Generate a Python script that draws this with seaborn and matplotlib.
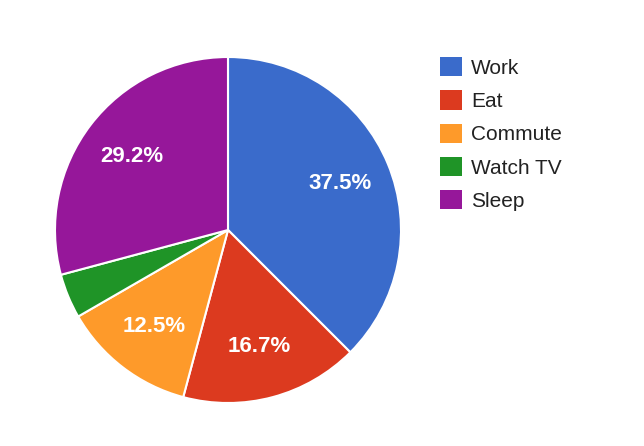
import matplotlib
matplotlib.use("Agg")
import matplotlib.pyplot as plt
from matplotlib.patches import Patch
import seaborn as sns

# hours per day
activities = ["Work", "Eat", "Commute", "Watch TV", "Sleep"]
hours = [9, 4, 3, 1, 7]
slice_colors = ["#3a6bcb", "#dc3a1f", "#fe9a2a", "#1f9427", "#96179a"]


def pct_label(p):
    # small slices get no label, like the original
    return "%.1f%%" % p if p >= 5 else ""


def main():
    sns.set_style("white")
    plt.rcParams["font.family"] = ["Liberation Sans", "DejaVu Sans"]
    palette = sns.color_palette(slice_colors)

    fig = plt.figure(figsize=(6.44, 4.46), dpi=100)
    ax = fig.add_axes([55 / 644, 43 / 446, 346 / 644, 346 / 446])

    wedges, texts, autotexts = ax.pie(
        hours,
        colors=palette,
        startangle=90,
        counterclock=False,
        autopct=pct_label,
        pctdistance=0.70,
        wedgeprops=dict(edgecolor="white", linewidth=1.5),
        textprops=dict(color="white", fontsize=16, fontweight="bold"),
    )
    ax.set_xlim(-1.0, 1.0)
    ax.set_ylim(-1.0, 1.0)
    ax.set_aspect("equal")

    handles = [Patch(facecolor=c, edgecolor="none") for c in palette]
    fig.legend(
        handles,
        activities,
        loc="upper left",
        bbox_to_anchor=(440 / 644, 1 - 57 / 446),
        frameon=False,
        fontsize=15,
        handlelength=1.05,
        handleheight=1.05,
        handletextpad=0.45,
        labelspacing=0.6,
        borderpad=0,
        borderaxespad=0,
        labelcolor="#222222",
    )

    fig.savefig("out.png", dpi=100, facecolor="white")


if __name__ == "__main__":
    main()
